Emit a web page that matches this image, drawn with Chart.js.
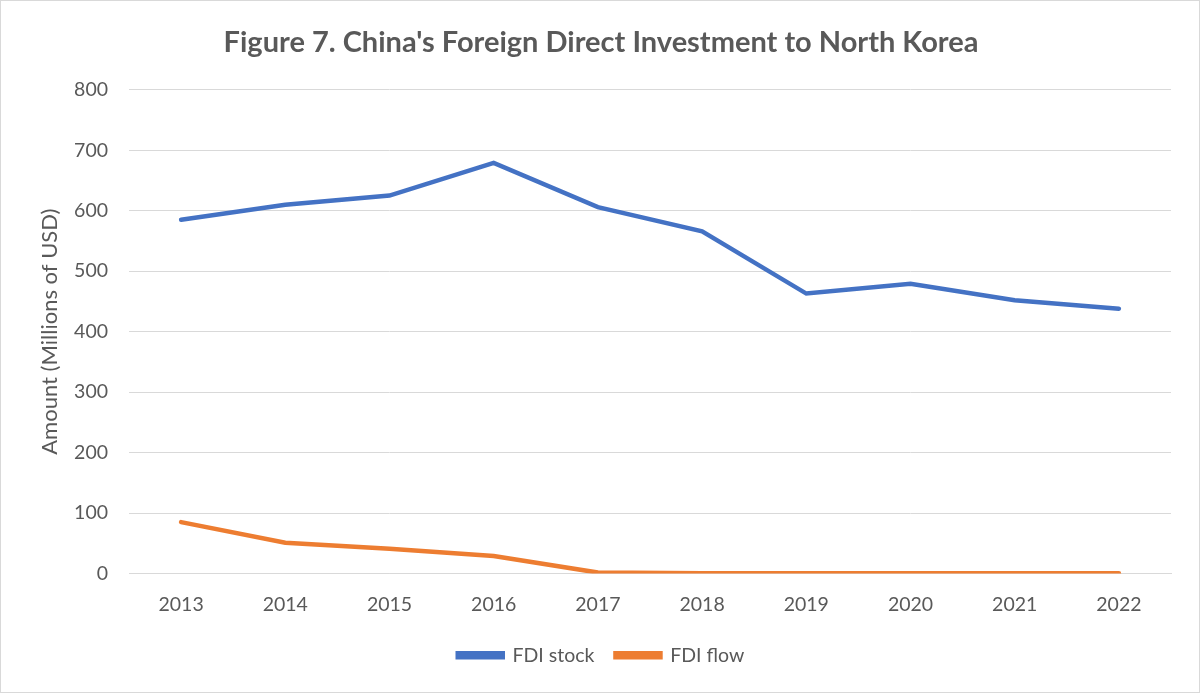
<!DOCTYPE html>
<html>
<head>
<meta charset="utf-8">
<script src="https://cdn.jsdelivr.net/npm/chart.js@4/dist/chart.umd.min.js"></script>
<style>
  html, body { margin: 0; padding: 0; background: #fff; }
  #wrap { width: 1198px; height: 691px; border: 1px solid #d9d9d9; }
</style>
</head>
<body>
<div id="wrap"><canvas id="mainChart" width="1198" height="691"></canvas></div>
<script>
const years = ['2013', '2014', '2015', '2016', '2017', '2018', '2019', '2020', '2021', '2022'];
const fdiStock = [585, 610, 625, 679, 606, 566, 463, 479, 452, 438];
const fdiFlow = [85, 51, 41, 29, 1.5, 0.5, 0.5, 0.5, 0.5, 0.5];
const yTicks = [0, 100, 200, 300, 400, 500, 600, 700, 800];

const grey = '#595959';
Chart.defaults.font.family = 'Lato, "Open Sans", sans-serif';
Chart.defaults.color = grey;

new Chart(document.getElementById('mainChart').getContext('2d'), {
    type: 'line',
    data: {
        labels: years,
        datasets: [
            { label: 'FDI stock', data: fdiStock, borderColor: '#4472C4', backgroundColor: '#4472C4', borderWidth: 4.5, pointRadius: 0, tension: 0, borderCapStyle: 'round' },
            { label: 'FDI flow', data: fdiFlow, borderColor: '#ED7D31', backgroundColor: '#ED7D31', borderWidth: 4.5, pointRadius: 0, tension: 0, borderCapStyle: 'round' }
        ]
    },
    options: {
        responsive: false, animation: false,
        layout: { padding: { left: 30, right: 28, top: 14, bottom: 17 } },
        plugins: {
            title: {
                display: true, text: "Figure 7. China's Foreign Direct Investment to North Korea",
                color: grey, font: { size: 29, weight: 'bold' }, padding: { top: 10, bottom: 30 }
            },
            legend: {
                position: 'bottom',
                labels: { boxWidth: 45, boxHeight: 4, padding: 21, color: grey, font: { size: 19.5 } }
            },
            tooltip: { enabled: false }
        },
        scales: {
            x: {
                offset: true,
                grid: { display: false },
                border: { color: '#d9d9d9' },
                afterFit: axis => { axis.height = 51; },
                ticks: { color: grey, font: { size: 19.5 }, padding: 12 }
            },
            y: {
                min: 0, max: 800,
                afterBuildTicks: axis => { axis.ticks = yTicks.map(v => ({ value: v })); },
                afterFit: axis => { axis.width = 98; },
                grid: { color: '#d9d9d9', drawTicks: false },
                border: { display: false },
                ticks: { color: grey, font: { size: 19.5 }, padding: 21 },
                title: { display: true, text: 'Amount (Millions of USD)', color: grey, font: { size: 22 }, padding: { top: 6, bottom: 4 } }
            }
        }
    }
});
</script>
</body>
</html>
